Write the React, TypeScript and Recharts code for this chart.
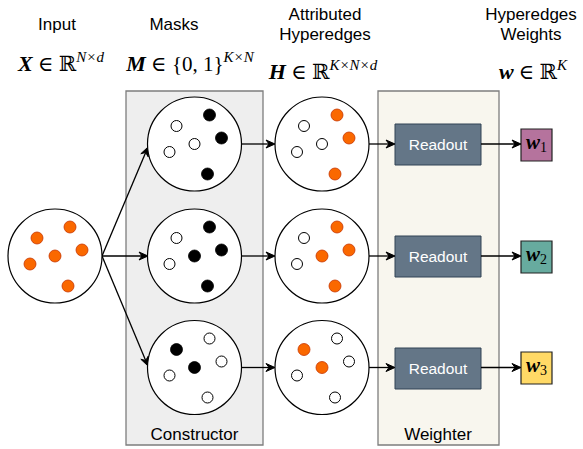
import React from "react";
import { ScatterChart, XAxis, YAxis, Scatter, ReferenceArea, ReferenceLine } from "recharts";

// node centres, in picture units (x right, y down)
const inputCenter = { x: 55, y: 256 };
const rowYs = [144, 256, 367.5];
const maskX = 194.5;
const hyperX = 322;

// the six nodes, as offsets inside every circle
const dotOffsets = [
  [-18, -18],
  [15, -29],
  [27, -6],
  [0, 0],
  [-25, 8],
  [13, 30],
];
// 1 = selected by the mask
const maskRows = [
  [0, 1, 1, 0, 0, 1],
  [0, 1, 1, 1, 0, 1],
  [1, 0, 0, 1, 0, 0],
];

const panels = [
  { name: "Constructor", x1: 126, x2: 263, y1: 91, y2: 445, fill: "#eeeeee" },
  { name: "Weighter", x1: 378, x2: 499, y1: 91, y2: 445, fill: "#f8f6ee" },
];

const readoutX = [395, 481];
const readoutY = [
  [124, 165],
  [236, 277],
  [348, 389],
];

const weightX = [521, 552];
const weightY = [
  [129, 161],
  [241, 273],
  [352, 384],
];
const weightColors = ["#B5739D", "#67AB9F", "#FFD966"];

const arrows = [
  [102, 256, 148, 147],
  [102, 256, 148, 256],
  [102, 256, 148, 366],
  ...rowYs.map((y) => [241, y, 275, y]),
  ...rowYs.map((y) => [369, y, 395, y]),
  ...rowYs.map((y) => [481, y, 521, y]),
];

const titles = [
  { x: 57, y: 30, text: "Input" },
  { x: 174, y: 30, text: "Masks" },
  { x: 325, y: 20, text: "Attributed" },
  { x: 325, y: 40, text: "Hyperedges" },
  { x: 531, y: 20, text: "Hyperedges" },
  { x: 531, y: 40, text: "Weights" },
  { x: 194.5, y: 440, text: "Constructor" },
  { x: 438, y: 440, text: "Weighter" },
];

const formulas = [
  { x: 61, y: 71, base: "X", mid: " ∈ ℝ", sup: "N×d" },
  { x: 190, y: 71, base: "M", mid: " ∈ {0, 1}", sup: "K×N" },
  { x: 323, y: 79, base: "H", mid: " ∈ ℝ", sup: "K×N×d" },
  { x: 533, y: 79, base: "w", mid: " ∈ ℝ", sup: "K" },
];

const circles = [
  inputCenter,
  ...rowYs.map((y) => ({ x: maskX, y })),
  ...rowYs.map((y) => ({ x: hyperX, y })),
];

const place = (cx: number, cy: number, idx: number[]) =>
  idx.map((i) => ({ x: cx + dotOffsets[i][0], y: cy + dotOffsets[i][1] }));
const pick = (row: number[], v: number) =>
  row.map((m, i) => (m === v ? i : -1)).filter((i) => i >= 0);

const orangeDots = [
  ...place(inputCenter.x, inputCenter.y, [0, 1, 2, 3, 4, 5]),
  ...rowYs.flatMap((y, r) => place(hyperX, y, pick(maskRows[r], 1))),
];
const blackDots = rowYs.flatMap((y, r) => place(maskX, y, pick(maskRows[r], 1)));
const whiteDots = rowYs.flatMap((y, r) => [
  ...place(maskX, y, pick(maskRows[r], 0)),
  ...place(hyperX, y, pick(maskRows[r], 0)),
]);

const SANS = "'Liberation Sans', Arial, Helvetica, sans-serif";
const SERIF = "'Liberation Serif', 'DejaVu Serif', serif";

function Arrow(p: any) {
  const { x1, y1, x2, y2 } = p;
  const a = Math.atan2(y2 - y1, x2 - x1);
  const L = 9;
  const w = 4;
  const n = 6;
  const c = Math.cos(a);
  const s = Math.sin(a);
  const bx = x2 - L * c;
  const by = y2 - L * s;
  const pts = [
    [x2, y2],
    [bx - w * s, by + w * c],
    [x2 - n * c, y2 - n * s],
    [bx + w * s, by - w * c],
  ]
    .map((q) => q.join(","))
    .join(" ");
  return (
    <g>
      <line x1={x1} y1={y1} x2={x2 - n * c} y2={y2 - n * s} stroke="#000" strokeWidth={1.3} />
      <polygon points={pts} fill="#000" stroke="#000" strokeWidth={1} strokeLinejoin="miter" />
    </g>
  );
}

export default function App() {
  return (
    <div style={{ position: "absolute", left: 0, top: 0, background: "#fff" }}>
      <ScatterChart width={583} height={449} margin={{ top: 0, right: 0, bottom: 0, left: 0 }}>
        <XAxis type="number" dataKey="x" domain={[0, 583]} hide allowDataOverflow />
        <YAxis type="number" dataKey="y" domain={[0, 449]} reversed hide allowDataOverflow />

        {panels.map((p) => (
          <ReferenceArea
            key={p.name}
            x1={p.x1}
            x2={p.x2}
            y1={p.y1}
            y2={p.y2}
            fill={p.fill}
            fillOpacity={1}
            stroke="#7d7d7d"
            strokeWidth={1.3}
          />
        ))}

        {arrows.map((a, i) => (
          <ReferenceLine
            key={"a" + i}
            segment={[
              { x: a[0], y: a[1] },
              { x: a[2], y: a[3] },
            ]}
            shape={Arrow}
          />
        ))}

        {readoutY.map((ry, i) => (
          <ReferenceArea
            key={"r" + i}
            x1={readoutX[0]}
            x2={readoutX[1]}
            y1={ry[0]}
            y2={ry[1]}
            fill="#647687"
            fillOpacity={1}
            stroke="#314354"
            strokeWidth={1}
            label={(lp: any) => {
              const vb = lp.viewBox;
              return (
                <text
                  x={vb.x + vb.width / 2}
                  y={vb.y + vb.height / 2 + 5.5}
                  textAnchor="middle"
                  fill="#ffffff"
                  fontSize={15.5}
                  fontFamily={SANS}
                >
                  Readout
                </text>
              );
            }}
          />
        ))}

        {weightY.map((wy, i) => (
          <ReferenceArea
            key={"w" + i}
            x1={weightX[0]}
            x2={weightX[1]}
            y1={wy[0]}
            y2={wy[1]}
            fill={weightColors[i]}
            fillOpacity={1}
            stroke="#222"
            strokeWidth={1.2}
            label={(lp: any) => {
              const vb = lp.viewBox;
              return (
                <text
                  x={vb.x + vb.width / 2}
                  y={vb.y + vb.height / 2 + 4}
                  textAnchor="middle"
                  fill="#000"
                  fontFamily={SERIF}
                >
                  <tspan fontSize={21} fontStyle="italic" fontWeight="bold">w</tspan>
                  <tspan fontSize={14} dy={3}>{i + 1}</tspan>
                </text>
              );
            }}
          />
        ))}

        <Scatter
          data={circles}
          isAnimationActive={false}
          shape={(p: any) => <circle cx={p.cx} cy={p.cy} r={47} fill="#fff" stroke="#000" strokeWidth={1.2} />}
        />
        <Scatter
          data={orangeDots}
          isAnimationActive={false}
          shape={(p: any) => <circle cx={p.cx} cy={p.cy} r={6} fill="#FA6800" stroke="#C73500" strokeWidth={0.8} />}
        />
        <Scatter
          data={blackDots}
          isAnimationActive={false}
          shape={(p: any) => <circle cx={p.cx} cy={p.cy} r={6} fill="#000" stroke="#000" strokeWidth={0.8} />}
        />
        <Scatter
          data={whiteDots}
          isAnimationActive={false}
          shape={(p: any) => <circle cx={p.cx} cy={p.cy} r={5.5} fill="#fff" stroke="#000" strokeWidth={1} />}
        />

        <Scatter
          data={titles}
          isAnimationActive={false}
          shape={(p: any) => (
            <text x={p.cx} y={p.cy} textAnchor="middle" fontSize={17} fontFamily={SANS} fill="#000">
              {p.payload.text}
            </text>
          )}
        />
        <Scatter
          data={formulas}
          isAnimationActive={false}
          shape={(p: any) => (
            <text x={p.cx} y={p.cy} textAnchor="middle" fontFamily={SERIF} fill="#000">
              <tspan fontSize={22} fontStyle="italic" fontWeight="bold">{p.payload.base}</tspan>
              <tspan fontSize={21}>{p.payload.mid}</tspan>
              <tspan fontSize={15} fontStyle="italic" dy={-9}>{p.payload.sup}</tspan>
            </text>
          )}
        />
      </ScatterChart>
    </div>
  );
}
